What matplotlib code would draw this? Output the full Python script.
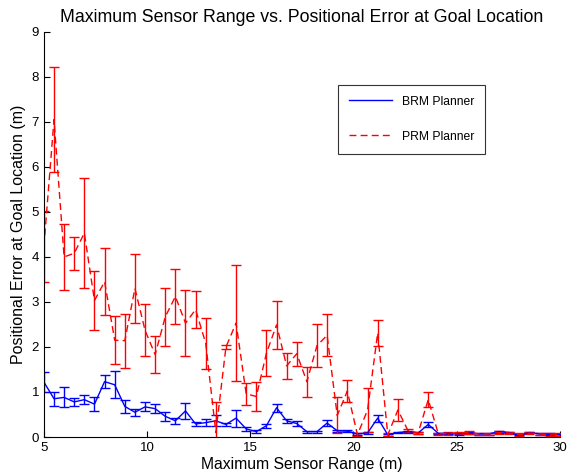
import numpy as np
import matplotlib
matplotlib.use("Agg")
import matplotlib.pyplot as plt
from matplotlib.lines import Line2D

plt.rcParams["font.family"] = ["Liberation Sans", "DejaVu Sans"]

# sensor range sweep (52 runs between 5 and 30 m)
sensor_range = np.linspace(5, 30, 52)

brm_mean = [1.22, 0.85, 0.88, 0.78, 0.83, 0.73, 1.23, 1.16, 0.68, 0.55,
            0.67, 0.63, 0.46, 0.36, 0.58, 0.29, 0.32, 0.36, 0.28, 0.42,
            0.18, 0.12, 0.25, 0.65, 0.36, 0.30, 0.12, 0.12, 0.31, 0.14,
            0.13, 0.07, 0.09, 0.42, 0.05, 0.10, 0.12, 0.09, 0.28, 0.08,
            0.08, 0.07, 0.09, 0.07, 0.07, 0.12, 0.10, 0.03, 0.10, 0.07,
            0.06, 0.05]
brm_err = [0.22, 0.15, 0.22, 0.08, 0.10, 0.16, 0.14, 0.30, 0.15, 0.08,
           0.10, 0.10, 0.10, 0.06, 0.17, 0.05, 0.08, 0.12, 0.03, 0.19,
           0.04, 0.03, 0.05, 0.09, 0.05, 0.06, 0.02, 0.02, 0.07, 0.02,
           0.02, 0.02, 0.02, 0.08, 0.02, 0.02, 0.02, 0.02, 0.05, 0.02,
           0.02, 0.02, 0.02, 0.02, 0.02, 0.02, 0.02, 0.02, 0.02, 0.02,
           0.02, 0.02]

prm_mean = [4.23, 7.05, 4.00, 4.08, 4.53, 3.03, 3.45, 2.15, 2.14, 3.30,
            2.37, 1.83, 2.67, 3.12, 2.53, 2.83, 2.08, 0.10, 2.00, 2.53,
            0.96, 0.90, 1.86, 2.49, 1.58, 1.85, 1.23, 2.03, 2.26, 0.48,
            1.02, 0.05, 0.60, 2.31, 0.05, 0.60, 0.14, 0.09, 0.83, 0.07,
            0.08, 0.09, 0.10, 0.07, 0.07, 0.10, 0.09, 0.05, 0.09, 0.07,
            0.05, 0.05]
prm_err = [0.78, 1.17, 0.73, 0.37, 1.22, 0.66, 0.74, 0.53, 0.60, 0.77,
           0.58, 0.41, 0.65, 0.62, 0.74, 0.41, 0.57, 0.68, 0.05, 1.29,
           0.24, 0.32, 0.51, 0.53, 0.29, 0.27, 0.33, 0.48, 0.47, 0.40,
           0.24, 0.03, 0.48, 0.28, 0.03, 0.24, 0.03, 0.03, 0.17, 0.03,
           0.03, 0.03, 0.03, 0.03, 0.03, 0.03, 0.03, 0.03, 0.03, 0.03,
           0.03, 0.03]

fig = plt.figure(figsize=(5.7, 4.74), dpi=100)
ax = fig.add_axes([0.077, 0.078, 0.905, 0.855])

ax.errorbar(sensor_range, brm_mean, yerr=brm_err, color="blue", lw=1,
            capsize=3.6, elinewidth=1)
prm = ax.errorbar(sensor_range, prm_mean, yerr=prm_err, color="red", lw=1,
                  capsize=3.6, elinewidth=1)
prm.lines[0].set_dashes([5, 3])

ax.set_xlim(5, 30)
ax.set_ylim(0, 9)
ax.set_xticks([5, 10, 15, 20, 25, 30])
ax.set_yticks(range(10))
ax.tick_params(direction="in", labelsize=9.5, length=4)
ax.spines["top"].set_visible(False)
ax.spines["right"].set_visible(False)

ax.set_title("Maximum Sensor Range vs. Positional Error at Goal Location",
             fontsize=12.8, pad=7)
ax.set_xlabel("Maximum Sensor Range (m)", fontsize=11.3, labelpad=2)
ax.set_ylabel("Positional Error at Goal Location (m)", fontsize=11.5, labelpad=4)

handles = [Line2D([], [], color="blue", lw=1),
           Line2D([], [], color="red", lw=1, dashes=[5, 3])]
leg = ax.legend(handles, ["BRM Planner", "PRM Planner"], loc="upper left",
                bbox_to_anchor=(0.57, 0.869), borderaxespad=0, fontsize=8.7,
                fancybox=False, edgecolor="black", handlelength=3.6,
                labelspacing=1.9, borderpad=0.9, handletextpad=0.8)
leg.get_frame().set_linewidth(0.8)

fig.savefig("out.png", dpi=100)
